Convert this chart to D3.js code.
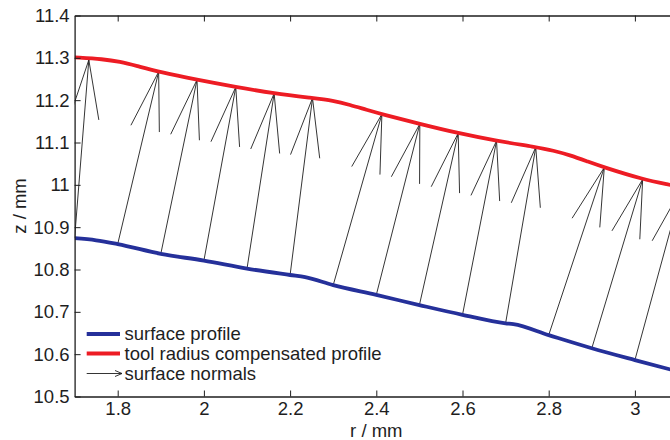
<!DOCTYPE html>
<html>
<head>
<meta charset="utf-8">
<script src="https://cdn.jsdelivr.net/npm/d3@7"></script>
<style>
  body { margin: 0; background: #fff; }
  svg { display: block; font-family: "Liberation Sans", Arial, sans-serif; }
</style>
</head>
<body>
<svg width="670" height="440"></svg>
<script>
// surface profile (blue)
const profileR = [1.7, 1.75, 1.8, 1.9, 2.0, 2.1, 2.2, 2.235, 2.3, 2.4, 2.5, 2.6, 2.7, 2.718, 2.8, 2.9, 3.0, 3.1];
const profileZ = [10.874, 10.869, 10.86, 10.837, 10.821, 10.802, 10.787, 10.782, 10.763, 10.740, 10.716, 10.693, 10.673, 10.671, 10.645, 10.614, 10.586, 10.559];

// tool radius compensated profile (red)
const compR = [1.7, 1.767, 1.805, 1.844, 1.895, 1.984, 2.074, 2.163, 2.252, 2.300, 2.339, 2.378, 2.413, 2.501, 2.590, 2.679, 2.770, 2.811, 2.849, 2.888, 2.929, 3.018, 3.081, 3.1];
const compZ = [11.301, 11.297, 11.291, 11.281, 11.267, 11.248, 11.231, 11.216, 11.205, 11.199, 11.189, 11.177, 11.167, 11.144, 11.122, 11.104, 11.089, 11.081, 11.070, 11.056, 11.041, 11.013, 11.000, 10.996];

// surface normals: base on the profile, tip on the compensated profile
const normalBaseR = [1.7, 1.8, 1.9, 2.0, 2.1, 2.2, 2.3, 2.4, 2.5, 2.6, 2.7, 2.8, 2.9, 3.0];
const normalBaseZ = [10.874, 10.86, 10.837, 10.821, 10.802, 10.787, 10.763, 10.740, 10.716, 10.693, 10.673, 10.645, 10.614, 10.586];
const normalTipR = [1.733, 1.895, 1.984, 2.074, 2.163, 2.252, 2.413, 2.501, 2.590, 2.679, 2.770, 2.929, 3.018, 3.109];
const normalTipZ = [11.295, 11.267, 11.248, 11.231, 11.216, 11.205, 11.167, 11.144, 11.122, 11.104, 11.089, 11.041, 11.013, 10.993];

const xTicks = [1.8, 2.0, 2.2, 2.4, 2.6, 2.8, 3.0];
const yTicks = [10.5, 10.6, 10.7, 10.8, 10.9, 11.0, 11.1, 11.2, 11.3, 11.4];

const legendLabels = ["surface profile", "tool radius compensated profile", "surface normals"];

const blue = "#25309a";
const red = "#ed1c24";
const ink = "#1e1e1e";
const fontSize = 18.5;

const svg = d3.select("svg");

const box = { left: 74.6, right: 678, top: 15.5, bottom: 396.5 };

const x = d3.scaleLinear().domain([1.7, 3.1]).range([box.left, box.right]);
const y = d3.scaleLinear().domain([10.5, 11.4]).range([box.bottom, box.top]);

const fmt = d => String(+d.toFixed(1));

svg.append("defs").append("clipPath")
    .attr("id", "plotClip")
  .append("rect")
    .attr("x", box.left).attr("y", box.top)
    .attr("width", box.right - box.left).attr("height", box.bottom - box.top);

const plot = svg.append("g").attr("clip-path", "url(#plotClip)");

// normals (drawn first, under the curves)
const alpha = 0.33, beta = 0.25;
normalBaseR.forEach((r, i) => {
    const bx = x(r), by = y(normalBaseZ[i]);
    const tx = x(normalTipR[i]), ty = y(normalTipZ[i]);
    const ux = tx - bx, uy = ty - by;
    const h1 = [tx - alpha * (ux + beta * uy), ty - alpha * (uy - beta * ux)];
    const h2 = [tx - alpha * (ux - beta * uy), ty - alpha * (uy + beta * ux)];
    plot.append("path")
        .attr("d", `M${bx},${by}L${tx},${ty}M${h1[0]},${h1[1]}L${tx},${ty}L${h2[0]},${h2[1]}`)
        .attr("fill", "none")
        .attr("stroke", ink)
        .attr("stroke-width", 0.9);
});

const line = d3.line()
    .x(d => x(d[0]))
    .y(d => y(d[1]))
    .curve(d3.curveMonotoneX);

plot.append("path")
    .attr("d", line(profileR.map((r, i) => [r, profileZ[i]])))
    .attr("fill", "none")
    .attr("stroke", blue)
    .attr("stroke-width", 3.8);

plot.append("path")
    .attr("d", line.curve(d3.curveBasis)(compR.map((r, i) => [r, compZ[i]])))
    .attr("fill", "none")
    .attr("stroke", red)
    .attr("stroke-width", 3.8);

// axes (MATLAB style: ticks inside, box)
function styleAxis(g) {
    g.attr("font-family", null);
    g.select(".domain").attr("stroke", ink).attr("stroke-width", 1.3);
    g.selectAll(".tick line").attr("stroke", ink).attr("stroke-width", 1);
    g.selectAll(".tick text").attr("fill", ink).attr("font-size", fontSize);
}

svg.append("g")
    .attr("transform", `translate(0,${box.bottom})`)
    .call(d3.axisBottom(x).tickValues(xTicks).tickFormat(fmt).tickSizeInner(-6).tickSizeOuter(0).tickPadding(5))
    .call(styleAxis);

svg.append("g")
    .attr("transform", `translate(0,${box.top})`)
    .call(d3.axisTop(x).tickValues(xTicks).tickFormat("").tickSizeInner(-6).tickSizeOuter(0))
    .call(styleAxis);

svg.append("g")
    .attr("transform", `translate(${box.left},0)`)
    .call(d3.axisLeft(y).tickValues(yTicks).tickFormat(fmt).tickSizeInner(-6).tickSizeOuter(0).tickPadding(5))
    .call(styleAxis);

svg.append("g")
    .attr("transform", `translate(${box.right},0)`)
    .call(d3.axisRight(y).tickValues(yTicks).tickFormat("").tickSizeInner(-6).tickSizeOuter(0))
    .call(styleAxis);

// axis titles
svg.append("text")
    .attr("x", (box.left + box.right) / 2)
    .attr("y", 436.5)
    .attr("text-anchor", "middle")
    .attr("font-size", fontSize)
    .attr("fill", ink)
    .text("r / mm");

svg.append("text")
    .attr("transform", `translate(25.5,${(box.top + box.bottom) / 2}) rotate(-90)`)
    .attr("text-anchor", "middle")
    .attr("font-size", fontSize)
    .attr("fill", ink)
    .text("z / mm");

// legend
const legend = svg.append("g");
const legendY = [334, 353.5, 373.5];
const lx0 = 86.7, lx1 = 120;

legend.append("line")
    .attr("x1", lx0).attr("x2", lx1)
    .attr("y1", legendY[0]).attr("y2", legendY[0])
    .attr("stroke", blue).attr("stroke-width", 3.8);

legend.append("line")
    .attr("x1", lx0).attr("x2", lx1)
    .attr("y1", legendY[1]).attr("y2", legendY[1])
    .attr("stroke", red).attr("stroke-width", 3.8);

legend.append("path")
    .attr("d", `M${lx0},${legendY[2]}L${lx1 + 2},${legendY[2]}M${lx1 - 5},${legendY[2] - 3}L${lx1 + 2},${legendY[2]}L${lx1 - 5},${legendY[2] + 3}`)
    .attr("fill", "none")
    .attr("stroke", ink)
    .attr("stroke-width", 0.9);

legend.selectAll("text")
    .data(legendLabels)
    .enter()
    .append("text")
    .attr("x", 124.5)
    .attr("y", (d, i) => legendY[i])
    .attr("dy", "0.35em")
    .attr("font-size", fontSize)
    .attr("fill", ink)
    .text(d => d);
</script>
</body>
</html>
